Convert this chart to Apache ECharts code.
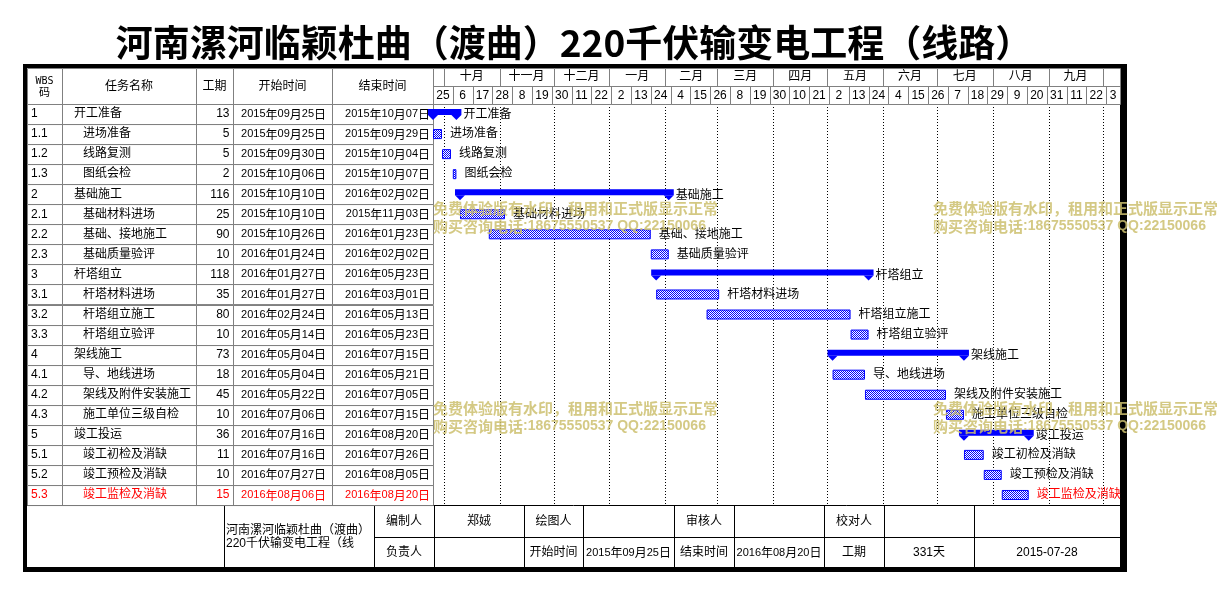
<!DOCTYPE html>
<html><head><meta charset="utf-8">
<script src="https://cdn.jsdelivr.net/npm/echarts@6/dist/echarts.min.js"></script>
<style>html,body{margin:0;padding:0;background:#fff}#c{width:1217px;height:593px}</style>
</head><body><div id="c"></div>
<script>
// ---------------- data ----------------
const chartTitle = '河南漯河临颖杜曲（渡曲）220千伏输变电工程（线路）';
const wbsCodes = ['1','1.1','1.2','1.3','2','2.1','2.2','2.3','3','3.1','3.2','3.3','4','4.1','4.2','4.3','5','5.1','5.2','5.3'];
const taskNames = ['开工准备','进场准备','线路复测','图纸会检','基础施工','基础材料进场','基础、接地施工','基础质量验评','杆塔组立','杆塔材料进场','杆塔组立施工','杆塔组立验评','架线施工','导、地线进场','架线及附件安装施工','施工单位三级自检','竣工投运','竣工初检及消缺','竣工预检及消缺','竣工监检及消缺'];
const durations = [13,5,5,2,116,25,90,10,118,35,80,10,73,18,45,10,36,11,10,15];
const startDates = ['2015-09-25','2015-09-25','2015-09-30','2015-10-06','2015-10-10','2015-10-10','2015-10-26','2016-01-24','2016-01-27','2016-01-27','2016-02-24','2016-05-14','2016-05-04','2016-05-04','2016-05-22','2016-07-06','2016-07-16','2016-07-16','2016-07-27','2016-08-06'];
const endDates = ['2015-10-07','2015-09-29','2015-10-04','2015-10-07','2016-02-02','2015-11-03','2016-01-23','2016-02-02','2016-05-23','2016-03-01','2016-05-13','2016-05-23','2016-07-15','2016-05-21','2016-07-05','2016-07-15','2016-08-20','2016-07-26','2016-08-05','2016-08-20'];
const highlightCodes = ['5.3'];
const tableHeaders = ['WBS|码','任务名称','工期','开始时间','结束时间'];
const axisOrigin = '2015-09-25';
const tickStepDays = 11;
const dayTickLabels = ['25','6','17','28','8','19','30','11','22','2','13','24','4','15','26','8','19','30','10','21','2','13','24','4','15','26','7','18','29','9','20','31','11','22','3'];
const monthLabels = ['','十月','十一月','十二月','一月','二月','三月','四月','五月','六月','七月','八月','九月',''];
const monthStarts = ['2015-09-25','2015-10-01','2015-11-01','2015-12-01','2016-01-01','2016-02-01','2016-03-01','2016-04-01','2016-05-01','2016-06-01','2016-07-01','2016-08-01','2016-09-01','2016-10-01'];
const footerTitle = ['河南漯河临颖杜曲（渡曲）','220千伏输变电工程（线'];
const footerRow1 = ['编制人','郑娀','绘图人','','审核人','','校对人','',''];
const footerRow2 = ['负责人','','开始时间','2015年09月25日','结束时间','2016年08月20日','工期','331天','2015-07-28'];
const watermark = ['免费体验版有水印，租用和正式版显示正常','购买咨询电话:18675550537 QQ:22150066'];

// ---------------- layout / style ----------------
const FONT = '"Liberation Sans","Noto Sans CJK SC",sans-serif';
const CJK = '"Noto Sans CJK SC",sans-serif';
const BLUE = '#0000ff';
const GRAY = '#808080';
const WM = 'rgba(205,192,110,0.85)';
const X_MAX = 381.7;
const TABLE_COLS = [0,35,169,206,305,406];
const FOOT_COLS = [27,224,374,434,524,583,674,734,824,884,974,1120];

function toDay(s){const a=s.split('-').map(Number);const o=axisOrigin.split('-').map(Number);return (Date.UTC(a[0],a[1]-1,a[2])-Date.UTC(o[0],o[1]-1,o[2]))/864e5;}
function fmtDate(s){const a=s.split('-');return a[0]+'年'+a[1]+'月'+a[2]+'日';}

const pat=document.createElement('canvas');pat.width=2;pat.height=2;
const pc=pat.getContext('2d');pc.fillStyle='#fff';pc.fillRect(0,0,2,2);pc.fillStyle=BLUE;pc.fillRect(0,0,1,1);pc.fillRect(1,1,1,1);

// mixed-font rich text: ascii runs in narrow latin font, CJK runs in CJK font
function richStyle(text,fill,latinFont,cjkFont){
  const runs=text.match(/[\x20-\x7e]+|[^\x20-\x7e]+/g)||[];
  const s=runs.map(r=>(/^[\x20-\x7e]/.test(r)?'{a|':'{b|')+r+'}').join('');
  return {text:s,rich:{a:{font:latinFont,fill:fill},b:{font:cjkFont,fill:fill}}};
}
function txt(text,x,y,align,opt){opt=opt||{};const st={text:text,x:x,y:y,fill:opt.fill||'#000',font:opt.font||('12px '+FONT),align:align,verticalAlign:'middle',textAlign:align,textVerticalAlign:'middle'};
  if(opt.mixed){const r=richStyle(text,st.fill,opt.mixed[0],opt.mixed[1]);st.text=r.text;st.rich=r.rich;}
  return {type:'text',z2:10,style:st};}
function cell(x,y,w,h,stroke){return {type:'rect',shape:{x:x,y:y,width:w,height:h},style:{fill:'none',stroke:stroke||GRAY,lineWidth:1}};}
const DATE_MIX=['11px "Liberation Sans",sans-serif','12px '+CJK];

const ganttData = wbsCodes.map((c,i)=>[toDay(startDates[i]),toDay(endDates[i])+1,i,c.indexOf('.')<0?1:0]);
const tableData = wbsCodes.map((c,i)=>[i]);
const monthData = monthLabels.map((m,i)=>[toDay(monthStarts[i]), i+1<monthStarts.length?toDay(monthStarts[i+1]):X_MAX, i]);
const tickData = dayTickLabels.map((d,i)=>[i*tickStepDays, Math.min((i+1)*tickStepDays,X_MAX), i]);
const boundaryData = monthStarts.slice(1).map(s=>[toDay(s)]);

function renderGantt(params,api){
  const s=api.value(0),e=api.value(1),r=api.value(2),summ=api.value(3);
  const p0=api.coord([s,r]),p1=api.coord([e,r]);
  const x0=p0[0],x1=p1[0],cy=p0[1];
  const idx=params.dataIndex;
  const red=highlightCodes.indexOf(wbsCodes[idx])>=0;
  const ch=[];
  if(summ){
    ch.push({type:'rect',shape:{x:x0-5,y:cy-5,width:x1-x0+10,height:6},style:{fill:BLUE}});
    ch.push({type:'polygon',shape:{points:[[x0-5,cy+1],[x0+5,cy+1],[x0,cy+6]]},style:{fill:BLUE}});
    ch.push({type:'polygon',shape:{points:[[x1-5,cy+1],[x1+5,cy+1],[x1,cy+6]]},style:{fill:BLUE}});
    ch.push(txt(taskNames[idx],x1+7,cy+1,'left',{fill:red?'#f00':'#000'}));
  } else {
    ch.push({type:'rect',shape:{x:x0+0.5,y:cy-4.5,width:Math.max(x1-x0-1,1),height:9},style:{fill:{image:pat,repeat:'repeat'},stroke:BLUE,lineWidth:1}});
    ch.push(txt(taskNames[idx],x1+8,cy,'left',{fill:red?'#f00':'#000'}));
  }
  return {type:'group',children:ch};
}

function renderTable(params,api){
  const r=api.value(0);
  const c=api.coord([0,r]);
  const h=api.size([0,1])[1];
  const top=Math.round(c[1]-h/2)+0.5, cy=c[1];
  const xs=TABLE_COLS.map(v=>Math.round(api.coord([v,r])[0])+0.5);
  const idx=params.dataIndex;
  const code=wbsCodes[idx];
  const red=highlightCodes.indexOf(code)>=0;
  const col=red?'#f00':'#000';
  const ch=[];
  for(let k=0;k<xs.length-1;k++) ch.push(cell(xs[k],top,xs[k+1]-xs[k],h));
  const lvl=code.indexOf('.')<0?1:2;
  const X=v=>api.coord([v,r])[0];
  ch.push(txt(code,X(4),cy,'left',{fill:col}));
  ch.push(txt(taskNames[idx],X(lvl===1?47:56),cy,'left',{fill:col}));
  ch.push(txt(String(durations[idx]),X(202.5),cy,'right',{fill:col}));
  ch.push(txt(fmtDate(startDates[idx]),X(299),cy,'right',{fill:col,mixed:DATE_MIX}));
  ch.push(txt(fmtDate(endDates[idx]),X(403),cy,'right',{fill:col,mixed:DATE_MIX}));
  return {type:'group',children:ch};
}

function renderTableHeader(params,api){
  const ch=[];
  for(let k=0;k<TABLE_COLS.length-1;k++){
    const a=api.coord([TABLE_COLS[k],0]),b=api.coord([TABLE_COLS[k+1],1]);
    const x0=Math.round(a[0])+0.5,x1=Math.round(b[0])+0.5,y0=Math.round(a[1])+0.5,y1=Math.round(b[1])+0.5;
    ch.push(cell(x0,y0,x1-x0,y1-y0));
    const cx=(a[0]+b[0])/2, cy=(a[1]+b[1])/2;
    const parts=tableHeaders[k].split('|');
    if(parts.length>1){
      ch.push(txt(parts[0],cx,cy-5,'center',{font:'10px "DejaVu Sans Mono",monospace'}));
      ch.push(txt(parts[1],cx,cy+7,'center',{font:'11px '+FONT}));
    } else ch.push(txt(parts[0],cx,cy+1,'center'));
  }
  return {type:'group',children:ch};
}

function renderMonth(params,api){
  const s=api.value(0),e=api.value(1),i=api.value(2);
  const a=api.coord([s,0]),b=api.coord([e,1]);
  const x0=Math.round(a[0])+0.5,x1=Math.round(b[0])+0.5,y0=Math.round(a[1])+0.5,y1=Math.round(b[1])+0.5;
  return {type:'group',children:[cell(x0,y0,x1-x0,y1-y0),txt(monthLabels[i],(a[0]+b[0])/2,(a[1]+b[1])/2,'center')]};
}
function renderTick(params,api){
  const s=api.value(0),e=api.value(1),i=api.value(2);
  const a=api.coord([s,1]),b=api.coord([e,2]);
  const x0=Math.round(a[0])+0.5,x1=Math.round(b[0])+0.5,y0=Math.round(a[1])+0.5,y1=Math.round(b[1])+0.5;
  return {type:'group',children:[cell(x0,y0,x1-x0,y1-y0),txt(dayTickLabels[i],(a[0]+b[0])/2,(a[1]+b[1])/2+1,'center')]};
}
function renderBoundary(params,api){
  const x=Math.round(api.coord([api.value(0),0])[0])+0.5;
  const cs=params.coordSys;
  return {type:'line',shape:{x1:x,y1:cs.y,x2:x,y2:cs.y+cs.height},style:{stroke:'#000',lineWidth:1,lineDash:[1,2]}};
}

// ---------------- graphic (title, frame, footer, watermark) ----------------
function gtext(text,x,y,align,font,fill,mixed,z){
  const st={text:text,fill:fill||'#000',font:font,align:align,verticalAlign:'middle',textAlign:align,textVerticalAlign:'middle'};
  if(mixed){const r=richStyle(text,st.fill,mixed[0],mixed[1]);st.text=r.text;st.rich=r.rich;}
  return {type:'text',x:x,y:y,z:z||10,style:st};
}
const gfx=[];
gfx.push(gtext(chartTitle,574,43,'center','bold 37px '+CJK));
const FT=505.5,FM=537.5,FB=567;
gfx.push({type:'line',shape:{x1:27,y1:FT,x2:1120,y2:FT},style:{stroke:'#000',lineWidth:1}});
gfx.push({type:'line',shape:{x1:FOOT_COLS[2],y1:FM,x2:1120,y2:FM},style:{stroke:'#000',lineWidth:1}});
for(let k=1;k<FOOT_COLS.length-1;k++){const x=FOOT_COLS[k]+0.5;gfx.push({type:'line',shape:{x1:x,y1:FT,x2:x,y2:FB},style:{stroke:'#000',lineWidth:1}});}
footerTitle.forEach((t,i)=>gfx.push(gtext(t,226,531+i*13,'left','12px '+FONT)));
for(let k=0;k<footerRow1.length;k++){
  const cx=(FOOT_COLS[k+2]+FOOT_COLS[k+3])/2;
  [[footerRow1[k],521.5],[footerRow2[k],552.5]].forEach(p=>{ if(p[0]) gfx.push(gtext(p[0],cx,p[1],'center','12px '+FONT,'#000',/年/.test(p[0])?DATE_MIX:null)); });
}
// frame
[[23,64,1104,4],[23,64,4,508],[1120,64,7,508],[23,567,1104,5]].forEach(r=>gfx.push({type:'rect',shape:{x:r[0],y:r[1],width:r[2],height:r[3]},style:{fill:'#000'}}));
// watermark
const WM_MIX=['bold 14px "Liberation Sans",sans-serif','bold 15px '+CJK];
[[433,208],[933,208],[433,408],[933,408]].forEach(p=>{
  watermark.forEach((t,i)=>gfx.push(gtext(t,p[0],p[1]+i*18,'left','bold 15px '+CJK,WM,WM_MIX,100)));
});

const hiddenVal=(min,max,inv)=>({type:'value',min:min,max:max,inverse:!!inv,show:false,splitLine:{show:false}});
const option={
  animation:false,
  backgroundColor:'#fff',
  grid:[
    {left:433,top:104,width:687,height:401},
    {left:433,top:68,width:687,height:36},
    {left:27,top:104,width:406,height:401},
    {left:27,top:68,width:406,height:36}
  ],
  xAxis:[hiddenVal(0,X_MAX),{...hiddenVal(0,X_MAX),gridIndex:1},{...hiddenVal(0,406),gridIndex:2},{...hiddenVal(0,406),gridIndex:3}],
  yAxis:[
    {type:'category',data:wbsCodes,inverse:true,show:false,gridIndex:0},
    {...hiddenVal(0,2,true),gridIndex:1},
    {type:'category',data:wbsCodes,inverse:true,show:false,gridIndex:2},
    {...hiddenVal(0,1,true),gridIndex:3}
  ],
  series:[
    {type:'custom',xAxisIndex:0,yAxisIndex:0,data:boundaryData,renderItem:renderBoundary,z:1,silent:true},
    {type:'custom',xAxisIndex:0,yAxisIndex:0,data:ganttData,renderItem:renderGantt,clip:false,z:5,encode:{x:[0,1],y:2}},
    {type:'custom',xAxisIndex:1,yAxisIndex:1,data:monthData,renderItem:renderMonth,z:3},
    {type:'custom',xAxisIndex:1,yAxisIndex:1,data:tickData,renderItem:renderTick,z:3},
    {type:'custom',xAxisIndex:2,yAxisIndex:2,data:tableData,renderItem:renderTable,z:2,encode:{y:0}},
    {type:'custom',xAxisIndex:3,yAxisIndex:3,data:[[0]],renderItem:renderTableHeader,z:2}
  ],
  graphic:{elements:gfx}
};
const chart=echarts.init(document.getElementById('c'));
chart.setOption(option);
</script></body></html>
